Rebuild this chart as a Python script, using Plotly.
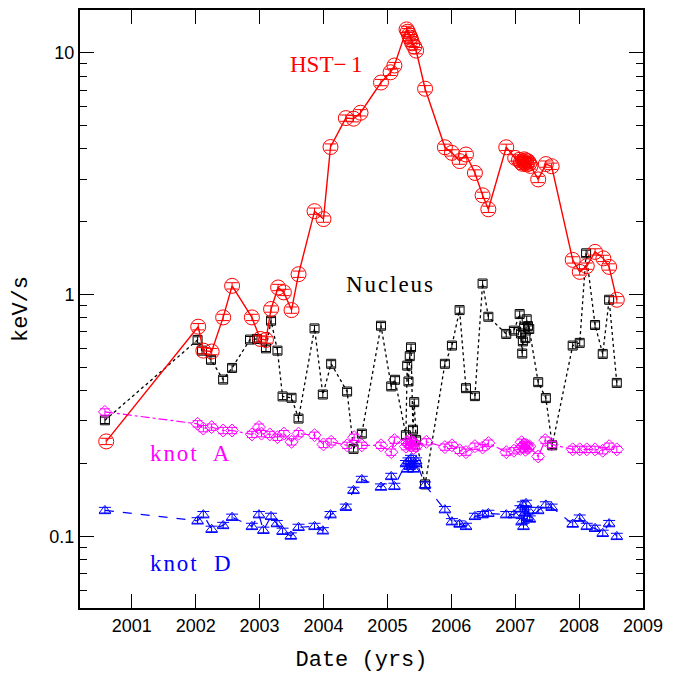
import plotly.graph_objects as go

# ---------------- data ----------------
hst_x = [2000.60, 2002.04, 2002.12, 2002.25, 2002.43, 2002.57, 2002.88, 2003.01, 2003.10, 2003.18,
         2003.29, 2003.38, 2003.50, 2003.61, 2003.86, 2004.00, 2004.11, 2004.35, 2004.47, 2004.58,
         2004.90, 2005.05, 2005.11, 2005.30, 2005.32, 2005.34, 2005.36, 2005.37, 2005.39, 2005.42,
         2005.45, 2005.59, 2005.90, 2006.01, 2006.13, 2006.23, 2006.37, 2006.49, 2006.58, 2006.86,
         2007.00, 2007.06, 2007.09, 2007.11, 2007.13, 2007.14, 2007.15, 2007.17, 2007.18, 2007.20,
         2007.22, 2007.24, 2007.36, 2007.48, 2007.57, 2007.90, 2008.01, 2008.12, 2008.25, 2008.38,
         2008.47, 2008.59]
hst_y = [0.247, 0.736, 0.586, 0.581, 0.804, 1.086, 0.804, 0.655, 0.649, 0.871,
         1.069, 1.02, 0.862, 1.213, 2.21, 2.05, 4.07, 5.36, 5.33, 5.64,
         7.52, 8.29, 8.84, 12.47, 12.2, 11.83, 11.53, 11.28, 10.92, 10.59,
         10.19, 7.09, 4.06, 3.85, 3.56, 3.79, 3.18, 2.57, 2.25, 4.06,
         3.67, 3.60, 3.52, 3.47, 3.55, 3.62, 3.50, 3.58, 3.45, 3.55,
         3.48, 3.40, 2.99, 3.46, 3.39, 1.39, 1.24, 1.31, 1.50, 1.41,
         1.30, 0.951]

nuc_x = [2000.58, 2002.03, 2002.10, 2002.24, 2002.43, 2002.57, 2002.85, 2002.96, 2003.10, 2003.18,
         2003.28, 2003.36, 2003.50, 2003.61, 2003.86, 2003.99, 2004.12, 2004.37, 2004.47, 2004.60,
         2004.90, 2005.06, 2005.12, 2005.29, 2005.31, 2005.33, 2005.35, 2005.37, 2005.40, 2005.42,
         2005.45, 2005.59, 2005.90, 2006.01, 2006.13, 2006.23, 2006.37, 2006.49, 2006.58, 2006.86,
         2006.98, 2007.07, 2007.09, 2007.11, 2007.12, 2007.14, 2007.16, 2007.18, 2007.20, 2007.22,
         2007.36, 2007.48, 2007.58, 2007.90, 2008.01, 2008.11, 2008.25, 2008.37, 2008.47, 2008.59]
nuc_y = [0.302, 0.649, 0.586, 0.537, 0.445, 0.497, 0.651, 0.655, 0.599, 0.779,
         0.586, 0.379, 0.374, 0.307, 0.724, 0.386, 0.517, 0.397, 0.230, 0.266,
         0.743, 0.417, 0.444, 0.262, 0.508, 0.437, 0.556, 0.605, 0.276, 0.359,
         0.250, 0.164, 0.517, 0.615, 0.862, 0.410, 0.380, 1.11, 0.809, 0.687,
         0.709, 0.830, 0.690, 0.570, 0.640, 0.730, 0.660, 0.790, 0.740, 0.720,
         0.434, 0.373, 0.238, 0.615, 0.631, 1.48, 0.748, 0.568, 0.951, 0.431]

kA_x = [2000.58, 2002.03, 2002.12, 2002.25, 2002.43, 2002.57, 2002.88, 2002.99, 2003.03, 2003.16,
        2003.28, 2003.38, 2003.50, 2003.61, 2003.86, 2004.00, 2004.12, 2004.37, 2004.48, 2004.60,
        2004.90, 2005.06, 2005.11, 2005.29, 2005.31, 2005.33, 2005.35, 2005.37, 2005.39, 2005.41,
        2005.43, 2005.45, 2005.61, 2005.90, 2006.01, 2006.13, 2006.23, 2006.37, 2006.49, 2006.58,
        2006.86, 2006.98, 2007.08, 2007.10, 2007.12, 2007.14, 2007.16, 2007.18, 2007.20, 2007.22,
        2007.36, 2007.47, 2007.57, 2007.90, 2008.01, 2008.12, 2008.25, 2008.37, 2008.47, 2008.59]
kA_y = [0.327, 0.292, 0.279, 0.283, 0.274, 0.274, 0.264, 0.283, 0.266, 0.264,
        0.257, 0.266, 0.246, 0.266, 0.262, 0.240, 0.246, 0.238, 0.257, 0.238,
        0.238, 0.223, 0.250, 0.235, 0.245, 0.240, 0.250, 0.238, 0.245, 0.232,
        0.242, 0.236, 0.246, 0.234, 0.238, 0.227, 0.223, 0.236, 0.233, 0.243,
        0.223, 0.226, 0.230, 0.245, 0.235, 0.240, 0.228, 0.238, 0.232, 0.236,
        0.214, 0.250, 0.240, 0.229, 0.229, 0.229, 0.229, 0.226, 0.236, 0.229]

kD_x = [2000.58, 2002.03, 2002.12, 2002.25, 2002.43, 2002.57, 2002.88, 2002.99, 2003.06, 2003.18,
        2003.27, 2003.36, 2003.49, 2003.61, 2003.86, 2003.99, 2004.11, 2004.35, 2004.47, 2004.60,
        2004.90, 2005.06, 2005.11, 2005.29, 2005.31, 2005.33, 2005.35, 2005.37, 2005.39, 2005.41,
        2005.43, 2005.45, 2005.59, 2005.90, 2006.01, 2006.13, 2006.23, 2006.37, 2006.49, 2006.58,
        2006.86, 2006.98, 2007.08, 2007.10, 2007.12, 2007.13, 2007.15, 2007.17, 2007.19, 2007.21,
        2007.23, 2007.36, 2007.48, 2007.57, 2007.90, 2008.01, 2008.12, 2008.25, 2008.37, 2008.47,
        2008.59]
kD_y = [0.128, 0.116, 0.123, 0.107, 0.111, 0.120, 0.110, 0.123, 0.106, 0.121,
        0.113, 0.105, 0.1004, 0.109, 0.110, 0.1055, 0.123, 0.132, 0.155, 0.172,
        0.160, 0.177, 0.161, 0.200, 0.190, 0.205, 0.195, 0.210, 0.198, 0.190,
        0.200, 0.205, 0.163, 0.129, 0.115, 0.1125, 0.110, 0.121, 0.123, 0.1245,
        0.123, 0.123, 0.130, 0.115, 0.135, 0.110, 0.125, 0.137, 0.120, 0.128,
        0.118, 0.128, 0.135, 0.132, 0.1125, 0.119, 0.110, 0.108, 0.103, 0.113,
        0.100]

year_ticks = [2001, 2002, 2003, 2004, 2005, 2006, 2007, 2008, 2009]
y_major = [0.1, 1, 10]
y_major_text = ["0.1", "1", "10"]
y_minor = [0.06, 0.07, 0.08, 0.09, 0.2, 0.3, 0.4, 0.5, 0.6, 0.7, 0.8, 0.9,
           2, 3, 4, 5, 6, 7, 8, 9]

# ---------------- figure ----------------
fig = go.Figure()

def add_series(x, y, color, symbol, size, dash, cap, lw):
    fig.add_trace(go.Scatter(
        x=x, y=y, mode="lines+markers",
        line=dict(color=color, width=lw, dash=dash),
        marker=dict(symbol=symbol, size=size, color=color,
                    line=dict(color=color, width=1.0)),
        error_y=dict(type="percent", value=3, color=color, thickness=1, width=cap),
        showlegend=False))

add_series(nuc_x, nuc_y, "black", "square-open", 9, "dot", 4, 1.3)
add_series(kA_x, kA_y, "#ff00ff", "diamond-open", 10, "dashdot", 5, 1.2)
add_series(kD_x, kD_y, "#0000ff", "triangle-up-open", 10, "dash", 6, 1.2)
add_series(hst_x, hst_y, "#ff0000", "circle-open", 15, "solid", 6, 1.4)

ann_font = "Liberation Serif"
anns = [
    dict(x=2004.04, y=0.95, text="HST\u2212\u20091", color="#ff0000", xanchor="center"),
    dict(x=2005.04, y=0.04, text="N\u200au\u200ac\u200al\u200ae\u200au\u200as", color="black", xanchor="center"),
    dict(x=2001.26, y=-0.656, text="k\u200an\u200ao\u200at\u00a0\u00a0 A", color="#ff00ff", xanchor="left"),
    dict(x=2001.26, y=-1.11, text="k\u200an\u200ao\u200at\u00a0\u00a0 D", color="#0000ff", xanchor="left"),
]
for a in anns:
    fig.add_annotation(x=a["x"], y=a["y"], text=a["text"], showarrow=False,
                       xanchor=a["xanchor"], yanchor="middle",
                       font=dict(family=ann_font, size=23, color=a["color"]))

fig.update_layout(
    width=689, height=680,
    margin=dict(l=80, r=46, t=8, b=72),
    paper_bgcolor="white", plot_bgcolor="white",
    font=dict(family="Liberation Sans", color="black"),
    xaxis=dict(
        range=[2000.19, 2009.0], tickvals=year_ticks,
        ticktext=[str(v) for v in year_ticks],
        ticks="inside", ticklen=14, tickwidth=1.2, tickcolor="black",
        showline=True, linecolor="black", linewidth=2, mirror="allticks",
        showgrid=False, zeroline=False,
        tickfont=dict(family="Liberation Sans", size=18),
        title=dict(text="Date (yrs)", font=dict(family="Liberation Mono", size=22), standoff=16),
    ),
    yaxis=dict(
        type="log", range=[-1.296, 1.176],
        tickvals=y_major, ticktext=y_major_text,
        ticks="inside", ticklen=14, tickwidth=1.2, tickcolor="black",
        minor=dict(tickvals=y_minor, ticks="inside", ticklen=7, tickwidth=1.2, tickcolor="black", showgrid=False),
        showline=True, linecolor="black", linewidth=2, mirror="allticks",
        showgrid=False, zeroline=False,
        tickfont=dict(family="Liberation Sans", size=18),
        title=dict(text="keV/s", font=dict(family="Liberation Mono", size=22), standoff=16),
    ),
)

fig.write_html("out.html")
